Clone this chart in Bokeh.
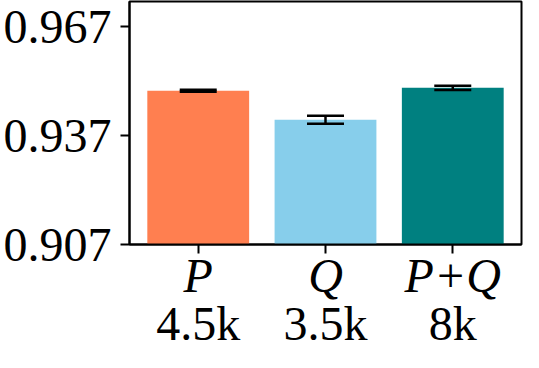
from bokeh.plotting import figure
from bokeh.models import (Range1d, FixedTicker, LinearAxis, Whisker, TeeHead,
                          ColumnDataSource, NumeralTickFormatter)
from bokeh.embed import file_html
from bokeh.resources import INLINE

categories = ["P", "Q", "P+Q"]
sizes = ["4.5k", "3.5k", "8k"]
means = [0.9494, 0.9414, 0.9502]
errors = [0.0003, 0.0011, 0.0006]
colors = ["#FF7F50", "#87CEEB", "#008080"]
y_ticks = [0.907, 0.937, 0.967]
y_start, y_end = 0.907, 0.9740

xs = list(range(len(categories)))
src = ColumnDataSource(dict(
    x=xs, top=means, color=colors,
    upper=[m + e for m, e in zip(means, errors)],
    lower=[m - e for m, e in zip(means, errors)],
))

FONT = "Liberation Serif"

p = figure(width=523, height=352, output_backend="svg", toolbar_location=None,
           x_range=Range1d(-0.54, 2.54), y_range=Range1d(y_start, y_end),
           min_border_top=1, min_border_right=2, min_border_left=126,
           min_border_bottom=100)

p.vbar(x="x", top="top", bottom=0, width=0.8, fill_color="color",
       line_color=None, source=src)

p.add_layout(Whisker(source=src, base="x", upper="upper", lower="lower",
                     line_color="black", line_width=2.5, level="annotation",
                     upper_head=TeeHead(size=37, line_color="black", line_width=2.5),
                     lower_head=TeeHead(size=37, line_color="black", line_width=2.5)))

p.grid.visible = False
p.outline_line_color = "black"
p.outline_line_width = 2
p.outline_line_alpha = 1

# x axis: category names (italic)
xa = p.xaxis[0]
xa.ticker = FixedTicker(ticks=xs)
xa.major_label_overrides = {i: c for i, c in zip(xs, categories)}
xa.major_label_text_font = FONT
xa.major_label_text_font_style = "italic"
xa.major_label_text_font_size = "48px"
xa.major_label_text_color = "black"
xa.major_tick_out = 9
xa.major_tick_in = 0
xa.minor_tick_line_color = None
xa.axis_line_width = 2
xa.major_tick_line_width = 2
xa.major_label_standoff = -5

# second x axis: sample sizes
xa2 = LinearAxis(ticker=FixedTicker(ticks=xs),
                 major_label_overrides={i: s for i, s in zip(xs, sizes)},
                 major_label_text_font=FONT, major_label_text_font_size="48px",
                 major_label_text_color="black",
                 axis_line_color=None, major_tick_line_color=None,
                 minor_tick_line_color=None, major_tick_out=0, major_tick_in=0,
                 major_label_standoff=-8)
p.add_layout(xa2, "below")

ya = p.yaxis[0]
ya.ticker = FixedTicker(ticks=y_ticks)
ya.formatter = NumeralTickFormatter(format="0.000")
ya.major_label_text_font = FONT
ya.major_label_text_font_size = "48px"
ya.major_label_text_color = "black"
ya.major_tick_out = 9
ya.major_tick_in = 0
ya.minor_tick_line_color = None
ya.axis_line_width = 2
ya.major_tick_line_width = 2
ya.major_label_standoff = 9

open("out.html", "w").write(file_html(p, INLINE))
